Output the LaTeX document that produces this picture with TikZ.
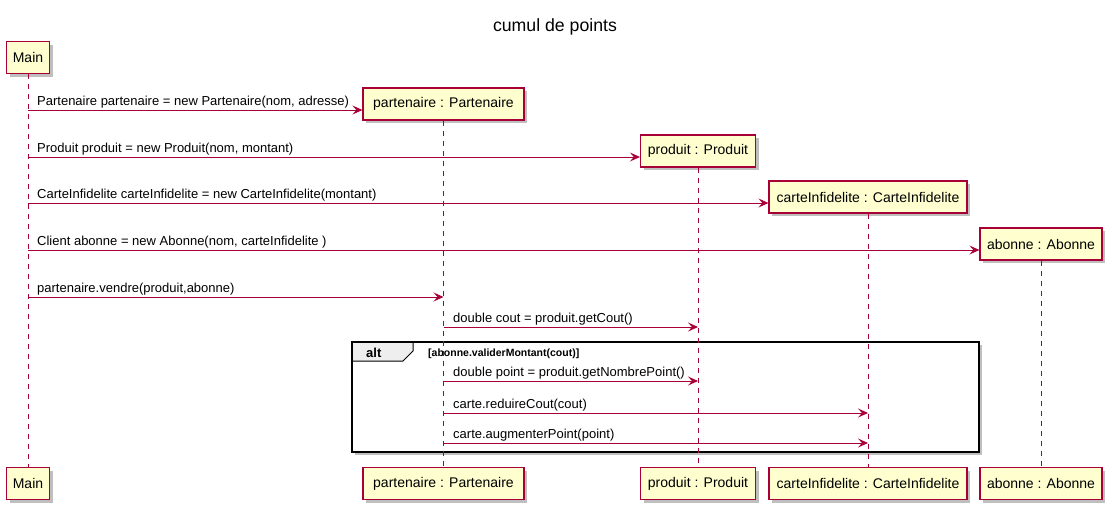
\documentclass[tikz,border=0pt]{standalone}
\usepackage{fontspec}
\setmainfont{Liberation Sans}
\usetikzlibrary{arrows.meta,shadows}
\definecolor{pborder}{HTML}{A80036}
\definecolor{pfill}{HTML}{FEFECE}
\definecolor{hdrfill}{HTML}{EEEEEE}
\begin{document}
\begin{tikzpicture}[x=1pt,y=-1pt,
  part/.style={draw=pborder,fill=pfill,line width=1.2pt,minimum height=32pt,inner sep=0pt,
    font=\fontsize{14}{16}\selectfont,
    drop shadow={shadow xshift=3pt,shadow yshift=-3pt,fill=black,opacity=0.25}},
  lifeline/.style={draw=pborder,line width=0.9pt,dash pattern=on 5pt off 5pt},
  msgline/.style={draw=pborder,line width=0.9pt,-{Stealth[length=10pt,width=9pt,inset=4pt]}},
  msgtext/.style={anchor=base west,inner sep=0pt,font=\fontsize{13}{15}\selectfont},
  frameline/.style={draw=black,line width=1.6pt},
]
\useasboundingbox (0,0) rectangle (1115,512);
\node[anchor=base,inner sep=0pt,font=\fontsize{17.7}{20}\selectfont] (title) at (555,31.5) {cumul de points};

% alt frame (behind)
\fill[black,opacity=0.25] (355,345) rectangle (982,455);
\draw[frameline,fill=white] (352,342) rectangle (979,452);
\draw[draw=black,line width=1pt,fill=hdrfill] (352,342) -- (413,342) -- (413,351) -- (403,361) -- (352,361) -- cycle;
\draw[frameline] (352,342) rectangle (979,452);
\node[anchor=base west,inner sep=0pt,font=\bfseries\fontsize{13}{15}\selectfont] (altlbl) at (366,357) {alt};
\node[anchor=base west,inner sep=0pt,font=\bfseries\fontsize{10.5}{12}\selectfont] (guard) at (428,356) {[abonne.validerMontant(cout)]};

% lifelines anchors via participants
\node[part,minimum width=43pt] (mainT) at (28,57.5) {Main};
\node[part,minimum width=161pt] (partT) at (443.5,104) {partenaire : Partenaire};
\node[part,minimum width=115pt] (prodT) at (698,151) {produit : Produit};
\node[part,minimum width=198pt] (carteT) at (868,197) {carteInfidelite : CarteInfidelite};
\node[part,minimum width=122pt] (aboT) at (1041,244) {abonne : Abonne};
\node[part,minimum width=43pt] (mainB) at (28,483.5) {Main};
\node[part,minimum width=161pt] (partB) at (443.5,483.5) {partenaire : Partenaire};
\node[part,minimum width=115pt] (prodB) at (698,483.5) {produit : Produit};
\node[part,minimum width=198pt] (carteB) at (868,483.5) {carteInfidelite : CarteInfidelite};
\node[part,minimum width=122pt] (aboB) at (1041,483.5) {abonne : Abonne};

\draw[lifeline] (mainT) -- (mainB);
\draw[lifeline] (partT) -- (partB);
\draw[lifeline] (prodT) -- (prodB);
\draw[lifeline] (carteT) -- (carteB);
\draw[lifeline] (aboT) -- (aboB);

% message end points
\coordinate (m1a) at (28,110);
\coordinate (m2a) at (28,157);
\coordinate (m3a) at (28,203);
\coordinate (m4a) at (28,250);
\coordinate (m5a) at (28,297);
\coordinate (m5b) at (443.5,297);
\coordinate (m6a) at (443.5,327);
\coordinate (m6b) at (698,327);
\coordinate (m7a) at (443.5,381);
\coordinate (m7b) at (698,381);
\coordinate (m8a) at (443.5,413);
\coordinate (m8b) at (868,413);
\coordinate (m9a) at (443.5,443);
\coordinate (m9b) at (868,443);

\draw[msgline] (m1a) -- ([yshift=-6pt]partT.west);
\draw[msgline] (m2a) -- ([yshift=-6pt]prodT.west);
\draw[msgline] (m3a) -- ([yshift=-6pt]carteT.west);
\draw[msgline] (m4a) -- ([yshift=-6pt]aboT.west);
\draw[msgline] (m5a) -- (m5b);
\draw[msgline] (m6a) -- (m6b);
\draw[msgline] (m7a) -- (m7b);
\draw[msgline] (m8a) -- (m8b);
\draw[msgline] (m9a) -- (m9b);

\node[msgtext] (t1) at (37,105) {Partenaire partenaire = new Partenaire(nom, adresse)};
\node[msgtext] (t2) at (37,152) {Produit produit = new Produit(nom, montant)};
\node[msgtext] (t3) at (37,198) {CarteInfidelite carteInfidelite = new CarteInfidelite(montant)};
\node[msgtext] (t4) at (37,245) {Client abonne = new Abonne(nom, carteInfidelite )};
\node[msgtext] (t5) at (37,292) {partenaire.vendre(produit,abonne)};
\node[msgtext] (t6) at (453,322) {double cout = produit.getCout()};
\node[msgtext] (t7) at (453,376) {double point = produit.getNombrePoint()};
\node[msgtext] (t8) at (453,408) {carte.reduireCout(cout)};
\node[msgtext] (t9) at (453,438) {carte.augmenterPoint(point)};
\end{tikzpicture}
\end{document}
